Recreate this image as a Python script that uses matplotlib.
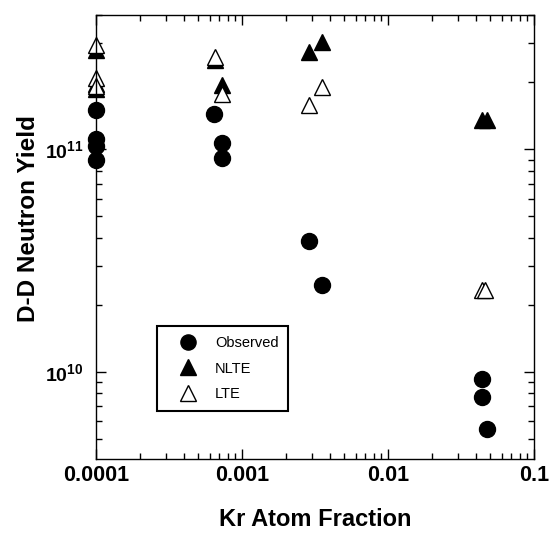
import numpy as np
import matplotlib
matplotlib.use("Agg")
import matplotlib.pyplot as plt
import matplotlib.ticker as ticker

plt.rcParams['font.family'] = ['Liberation Sans', 'DejaVu Sans']
plt.rcParams['mathtext.fontset'] = 'custom'
plt.rcParams['mathtext.rm'] = 'Liberation Sans:bold'
plt.rcParams['mathtext.bf'] = 'Liberation Sans:bold'
plt.rcParams['mathtext.it'] = 'Liberation Sans:bold'

# Kr atom fraction vs D-D neutron yield
obs_x = [1e-4, 1e-4, 1e-4, 1e-4, 6.4e-4, 7.3e-4, 7.3e-4, 2.89e-3, 3.52e-3, 0.0438, 0.0442, 0.0474]
obs_y = [1.51e11, 1.11e11, 1.03e11, 8.95e10, 1.44e11, 1.07e11, 9.1e10, 3.88e10, 2.45e10, 9.27e9, 7.72e9, 5.53e9]

nlte_x = [1e-4, 1e-4, 1e-4, 6.5e-4, 7.3e-4, 2.89e-3, 3.52e-3, 0.0438, 0.0474]
nlte_y = [2.80e11, 1.97e11, 1.87e11, 2.52e11, 1.95e11, 2.75e11, 3.05e11, 1.35e11, 1.35e11]

lte_x = [1e-4, 1e-4, 1e-4, 6.5e-4, 7.3e-4, 2.89e-3, 3.52e-3, 0.0438, 0.0465]
lte_y = [2.94e11, 2.09e11, 1.93e11, 2.59e11, 1.77e11, 1.58e11, 1.91e11, 2.32e10, 2.32e10]

xtick_vals = [1e-4, 1e-3, 1e-2, 1e-1]
xtick_labels = ["0.0001", "0.001", "0.01", "0.1"]
ytick_vals = [1e10, 1e11]
ytick_labels = [r"$\mathbf{10^{10}}$", r"$\mathbf{10^{11}}$"]

fig = plt.figure(figsize=(5.57, 5.36), dpi=100)
ax = fig.add_axes([0.1724, 0.1437, 0.7863, 0.8283])

ax.plot(obs_x, obs_y, 'o', color='black', markersize=11.5, linestyle='none', label='Observed', clip_on=False)
ax.plot(nlte_x, nlte_y, '^', color='black', markersize=12, linestyle='none', label='NLTE', clip_on=False)
ax.plot(lte_x, lte_y, '^', markerfacecolor='white', markeredgecolor='black', markeredgewidth=1.0,
        markersize=12, linestyle='none', label='LTE', clip_on=False)

ax.set_xscale('log')
ax.set_yscale('log')
ax.set_xlim(1e-4, 0.1)
ax.set_ylim(4.05e9, 4.02e11)

ax.xaxis.set_major_locator(ticker.FixedLocator(xtick_vals))
ax.xaxis.set_major_formatter(ticker.FixedFormatter(xtick_labels))
ax.xaxis.set_minor_locator(ticker.LogLocator(base=10, subs=np.arange(2, 10)))
ax.xaxis.set_minor_formatter(ticker.NullFormatter())
ax.yaxis.set_major_locator(ticker.FixedLocator(ytick_vals))
ax.yaxis.set_major_formatter(ticker.FixedFormatter(ytick_labels))
ax.yaxis.set_minor_locator(ticker.LogLocator(base=10, subs=np.arange(2, 10)))
ax.yaxis.set_minor_formatter(ticker.NullFormatter())

ax.tick_params(which='both', direction='in', top=True, right=True, width=1)
ax.tick_params(which='major', length=7)
ax.tick_params(which='minor', length=4)
ax.tick_params(axis='x', which='major', pad=4)
ax.tick_params(axis='y', which='major', pad=9)
for lab in ax.get_xticklabels():
    lab.set_fontsize(15.5)
    lab.set_fontweight('bold')
for lab in ax.get_yticklabels():
    lab.set_fontsize(14)

for s in ax.spines.values():
    s.set_linewidth(1)

ax.set_xlabel('Kr Atom Fraction', fontsize=17, fontweight='bold')
ax.set_ylabel('D-D Neutron Yield', fontsize=17.5, fontweight='bold')
ax.xaxis.set_label_coords(0.5, -0.11)
ax.yaxis.set_label_coords(-0.128, 0.5405)

leg = ax.legend(loc='lower left', bbox_to_anchor=(0.1386, 0.1088), borderaxespad=0,
                fontsize=10.5, fancybox=False, framealpha=1, edgecolor='black',
                borderpad=0.65, labelspacing=0.8, handletextpad=0.33, handlelength=3.0,
                markerscale=0.95)
leg.get_frame().set_linewidth(1.5)

fig.savefig('out.png', dpi=100)
